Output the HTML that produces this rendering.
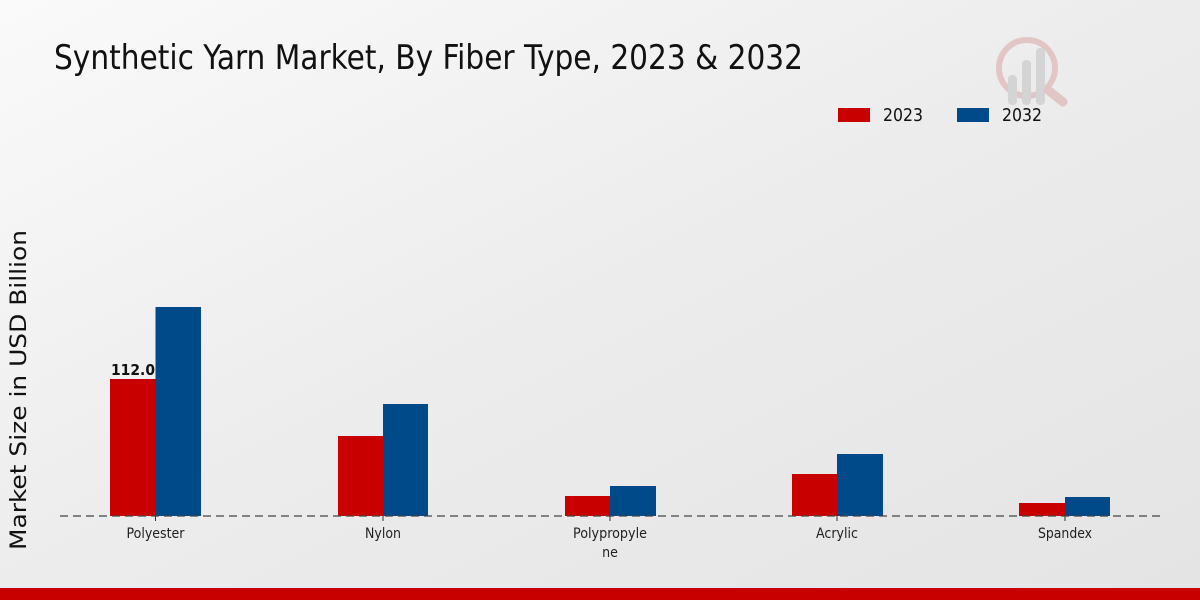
<!DOCTYPE html>
<html><head><style>
html,body{margin:0;padding:0}
body{width:1200px;height:600px;overflow:hidden;font-family:"DejaVu Sans Condensed","DejaVu Sans","Liberation Sans",sans-serif;}
</style></head><body>
<svg width="1200" height="600" xmlns="http://www.w3.org/2000/svg" style="display:block">
<defs>
<linearGradient id="bg" x1="0" y1="0" x2="1" y2="1">
<stop offset="0" stop-color="#fafafa"/><stop offset="0.5" stop-color="#ececec"/><stop offset="1" stop-color="#e4e4e4"/>
</linearGradient>
</defs>
<rect width="1200" height="600" fill="url(#bg)"/>
<text x="54" y="69" font-size="34" textLength="749" lengthAdjust="spacingAndGlyphs" fill="#111">Synthetic Yarn Market, By Fiber Type, 2023 &amp; 2032</text>
<g opacity="0.35">
<circle cx="1027" cy="68" r="28" fill="none" stroke="#d08080" stroke-width="6"/>
<rect x="1008" y="75" width="9" height="30" rx="4" fill="#aaa"/>
<rect x="1022" y="60" width="9" height="45" rx="4" fill="#aaa"/>
<rect x="1036" y="48" width="9" height="57" rx="4" fill="#aaa"/>
<line x1="1048" y1="90" x2="1063" y2="102" stroke="#d08080" stroke-width="9" stroke-linecap="round"/>
</g>
<rect x="838" y="108" width="32" height="14" fill="#c80000"/>
<text x="883" y="121" font-size="18" textLength="40" lengthAdjust="spacingAndGlyphs" fill="#111">2023</text>
<rect x="957" y="108" width="32" height="14" fill="#004a8a"/>
<text x="1002" y="121" font-size="18" textLength="40" lengthAdjust="spacingAndGlyphs" fill="#111">2032</text>
<text transform="translate(26,390) rotate(-90)" text-anchor="middle" font-size="22" textLength="320" lengthAdjust="spacingAndGlyphs" fill="#111">Market Size in USD Billion</text>
<g>
<rect x="110" y="379" width="45.5" height="137" fill="#c80000"/>
<rect x="155.5" y="307" width="45.5" height="209" fill="#004a8a"/>
<rect x="338" y="436" width="45" height="80" fill="#c80000"/>
<rect x="383" y="404" width="45" height="112" fill="#004a8a"/>
<rect x="565" y="496" width="45" height="20" fill="#c80000"/>
<rect x="610" y="486" width="46" height="30" fill="#004a8a"/>
<rect x="792" y="474" width="45" height="42" fill="#c80000"/>
<rect x="837" y="454" width="46" height="62" fill="#004a8a"/>
<rect x="1019" y="503" width="46" height="13" fill="#c80000"/>
<rect x="1065" y="497" width="45" height="19" fill="#004a8a"/>
</g>
<line x1="60" y1="516" x2="1160" y2="516" stroke="#444" stroke-width="1.2" stroke-dasharray="8,5"/>
<g stroke="#333"><line x1="155.5" y1="516" x2="155.5" y2="521"/><line x1="383" y1="516" x2="383" y2="521"/><line x1="610" y1="516" x2="610" y2="521"/><line x1="837" y1="516" x2="837" y2="521"/><line x1="1065" y1="516" x2="1065" y2="521"/></g>
<text x="133" y="375" font-size="15" font-weight="bold" text-anchor="middle" textLength="44" lengthAdjust="spacingAndGlyphs" fill="#111">112.0</text>
<g font-size="14" text-anchor="middle" fill="#222">
<text x="155.5" y="538" textLength="58" lengthAdjust="spacingAndGlyphs">Polyester</text>
<text x="383" y="538" textLength="36" lengthAdjust="spacingAndGlyphs">Nylon</text>
<text x="610" y="538" textLength="74" lengthAdjust="spacingAndGlyphs">Polypropyle</text>
<text x="610" y="557">ne</text>
<text x="837" y="538" textLength="42" lengthAdjust="spacingAndGlyphs">Acrylic</text>
<text x="1065" y="538" textLength="54" lengthAdjust="spacingAndGlyphs">Spandex</text>
</g>
<rect x="0" y="588" width="1200" height="12" fill="#c80000"/>
</svg>
</body></html>
